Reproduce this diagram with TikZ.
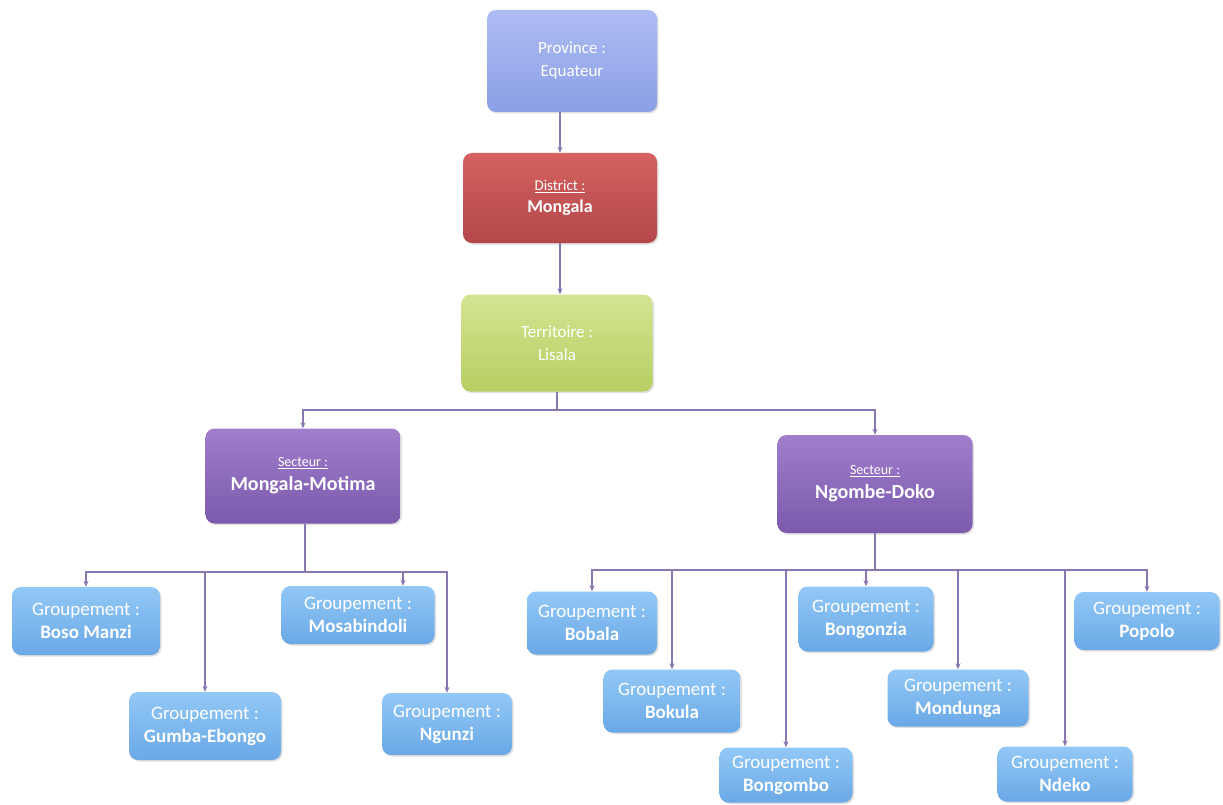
\documentclass[tikz,border=0pt]{standalone}
\usepackage{fontspec}
\setmainfont{Carlito}
\usetikzlibrary{arrows.meta,shadows,calc}
\definecolor{connc}{HTML}{8877B0}
\definecolor{provT}{HTML}{AEBCF2}\definecolor{provB}{HTML}{8A9FE6}
\definecolor{distT}{HTML}{D4625F}\definecolor{distB}{HTML}{B4474A}
\definecolor{terrT}{HTML}{D3E492}\definecolor{terrB}{HTML}{B7CF62}
\definecolor{sectT}{HTML}{A07ECC}\definecolor{sectB}{HTML}{7C5AAC}
\definecolor{grpT}{HTML}{92C8F6}\definecolor{grpB}{HTML}{6AA8E6}
\tikzset{
  box/.style={rounded corners=9pt, inner sep=0pt, align=center, text=white,
    drop shadow={shadow xshift=1.5pt, shadow yshift=-1.5pt, opacity=0.25}},
  provbox/.style={box, top color=provT, bottom color=provB, font=\fontsize{17}{23}\selectfont},
  distbox/.style={box, top color=distT, bottom color=distB, font=\fontsize{18}{22}\selectfont},
  terrbox/.style={box, top color=terrT, bottom color=terrB, font=\fontsize{17}{23}\selectfont},
  sectbox/.style={box, top color=sectT, bottom color=sectB, font=\fontsize{20}{24}\selectfont},
  grpbox/.style={box, top color=grpT, bottom color=grpB, font=\fontsize{19}{23}\selectfont},
  conn/.style={draw=connc, line width=1.1pt, -{Stealth[length=6pt,width=5pt]}},
  bus/.style={draw=connc, line width=1.1pt}
}
\newcommand{\lbl}[3]{{\fontsize{#3}{#3}\selectfont\underline{#1 :}}\\\textbf{#2}}
\begin{document}
\begin{tikzpicture}[x=1pt,y=-1pt]
\useasboundingbox (0,0) rectangle (1223,805);
\fill[white] (0,0) rectangle (1223,805);
% top levels
\node[provbox, minimum width=170pt, minimum height=102pt] (prov) at (572,61) {Province :\\Equateur};
\node[distbox, minimum width=194pt, minimum height=90pt] (dist) at (560,198) {\lbl{District}{Mongala}{15}};
\node[terrbox, minimum width=191pt, minimum height=97pt] (terr) at (557,343) {Territoire :\\Lisala};
% sectors
\node[sectbox, minimum width=195pt, minimum height=95pt] (s1) at (303,476) {\lbl{Secteur}{Mongala-Motima}{14}};
\node[sectbox, minimum width=195pt, minimum height=98pt] (s2) at (875,484) {\lbl{Secteur}{Ngombe-Doko}{14}};
% groupements of Mongala-Motima
\node[grpbox, minimum width=148pt, minimum height=68pt] (g1) at (86,621) {Groupement :\\\textbf{Boso Manzi}};
\node[grpbox, minimum width=152pt, minimum height=68pt] (g2) at (205,726) {Groupement :\\\textbf{Gumba-Ebongo}};
\node[grpbox, minimum width=153pt, minimum height=58pt] (g3) at (358,615) {Groupement :\\\textbf{Mosabindoli}};
\node[grpbox, minimum width=130pt, minimum height=62pt] (g4) at (447,724) {Groupement :\\\textbf{Ngunzi}};
% groupements of Ngombe-Doko
\node[grpbox, minimum width=130pt, minimum height=63pt] (g5) at (592,623) {Groupement :\\\textbf{Bobala}};
\node[grpbox, minimum width=137pt, minimum height=63pt] (g6) at (672,701) {Groupement :\\\textbf{Bokula}};
\node[grpbox, minimum width=133pt, minimum height=55pt] (g7) at (786,775) {Groupement :\\\textbf{Bongombo}};
\node[grpbox, minimum width=135pt, minimum height=65pt] (g8) at (866,619) {Groupement :\\\textbf{Bongonzia}};
\node[grpbox, minimum width=141pt, minimum height=57pt] (g9) at (958,698) {Groupement :\\\textbf{Mondunga}};
\node[grpbox, minimum width=135pt, minimum height=55pt] (g10) at (1065,774) {Groupement :\\\textbf{Ndeko}};
\node[grpbox, minimum width=145pt, minimum height=58pt] (g11) at (1147,621) {Groupement :\\\textbf{Popolo}};
% connectors
\draw[conn] (prov.south -| dist.north) -- (dist.north);
\draw[conn] (dist.south) -- (dist.south |- terr.north);
\coordinate (j0) at (557,410);
\draw[bus] (terr.south) -- (j0);
\draw[conn] (j0) -| (s1.north);
\draw[conn] (j0) -| (s2.north);
\coordinate (j1) at (305,572);
\draw[bus] (s1.south -| j1) -- (j1);
\foreach \g in {g1,g2,g4} \draw[conn] (j1) -| (\g.north);
\draw[conn] (j1) -| ([xshift=45pt]g3.north);
\coordinate (j2) at (875,570);
\draw[bus] (s2.south) -- (j2);
\foreach \g in {g5,g6,g7,g8,g9,g10,g11} \draw[conn] (j2) -| (\g.north);
\end{tikzpicture}
\end{document}
